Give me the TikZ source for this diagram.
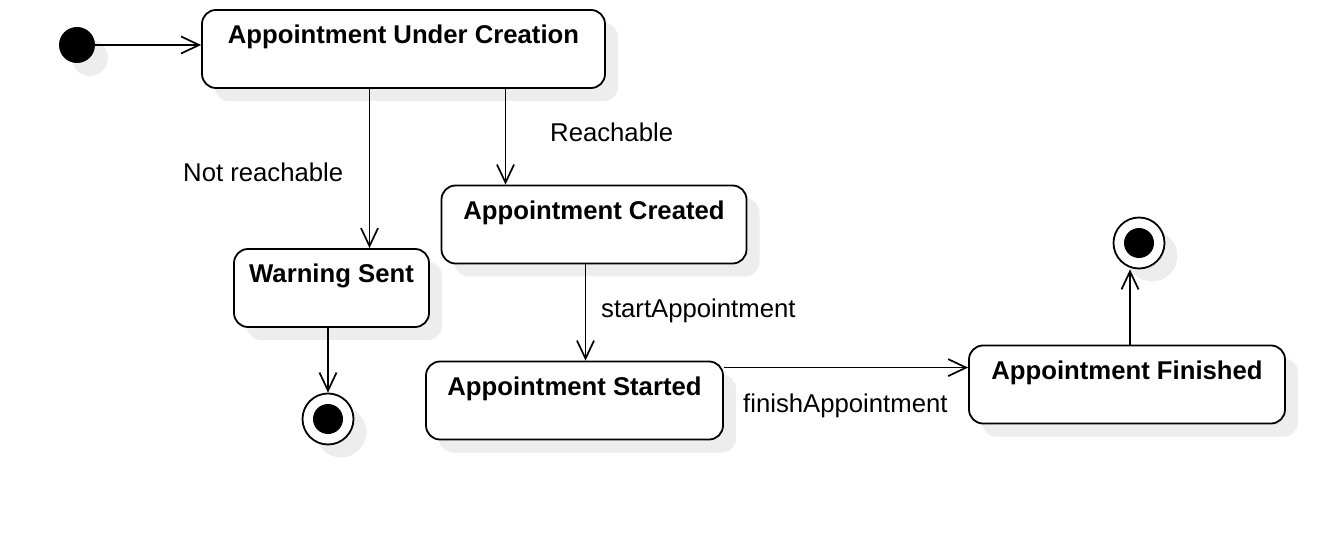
\documentclass[tikz,border=0pt]{standalone}
\usepackage{fontspec}
\setmainfont{Liberation Sans}
\usetikzlibrary{arrows.meta,shadows}
\begin{document}
\begin{tikzpicture}[x=1pt,y=-1pt,
  shad/.style={drop shadow={shadow xshift=13pt,shadow yshift=-13pt,fill=black!7,opacity=1}},
  statebox/.style={draw,line width=1.8pt,rounded corners=14pt,fill=white,shad,
    inner sep=0pt,text height=34pt,text depth=44pt,minimum height=78pt,
    font=\fontsize{25.7}{30}\selectfont\bfseries},
  lbl/.style={anchor=base west,inner sep=0pt,font=\fontsize{25.7}{30}\selectfont},
  arr/.style={line width=1.7pt,-{Straight Barb[length=18pt,width=17pt,line width=1.7pt]}},
  finalst/.style={draw,circle,line width=1.8pt,fill=white,minimum size=51pt,inner sep=0pt,shad}
]
\useasboundingbox (0,0) rectangle (1324,534);
% initial
\node[circle,fill=black,minimum size=36pt,inner sep=0pt,shad] (init) at (77,45) {};
% states
\node[statebox,minimum width=403pt] (b1) at (403.5,49) {Appointment Under Creation};
\node[statebox,minimum width=195pt] (ws) at (331.5,288) {Warning Sent};
\node[statebox,minimum width=305pt] (ac) at (594,224.5) {Appointment Created};
\node[statebox,minimum width=297pt] (st) at (574.5,400.5) {Appointment Started};
\node[statebox,minimum width=316pt] (fin) at (1127,384.5) {Appointment Finished};
% finals
\node[finalst] (f1) at (328,419) {};
\fill (f1.center) circle (15pt);
\node[finalst] (f2) at (1139,243) {};
\fill (f2.center) circle (15pt);
% connectors
\coordinate (stout) at ([yshift=-7pt]st.north east);
\draw[arr] (init.east) -- (b1.west |- init.east);
\draw[arr] ([xshift=-34pt]b1.south) -- ([xshift=-34pt]b1.south |- ws.north);
\draw[arr] ([xshift=102pt]b1.south) -- ([xshift=102pt]b1.south |- ac.north);
\draw[arr] (ws.south -| f1.north) -- (f1.north);
\draw[arr] ([xshift=-8.5pt]ac.south) -- ([xshift=-8.5pt]ac.south |- st.north);
\draw[arr] (stout) -- (fin.west |- stout);
\draw[arr] ([xshift=3pt]fin.north) -- ([xshift=3pt]fin.north |- f2.south);
% labels
\node[lbl] (l1) at (183,182) {Not reachable};
\node[lbl] (l2) at (550,142) {Reachable};
\node[lbl] (l3) at (601,318) {startAppointment};
\node[lbl] (l4) at (743,412) {finishAppointment};
\end{tikzpicture}
\end{document}
